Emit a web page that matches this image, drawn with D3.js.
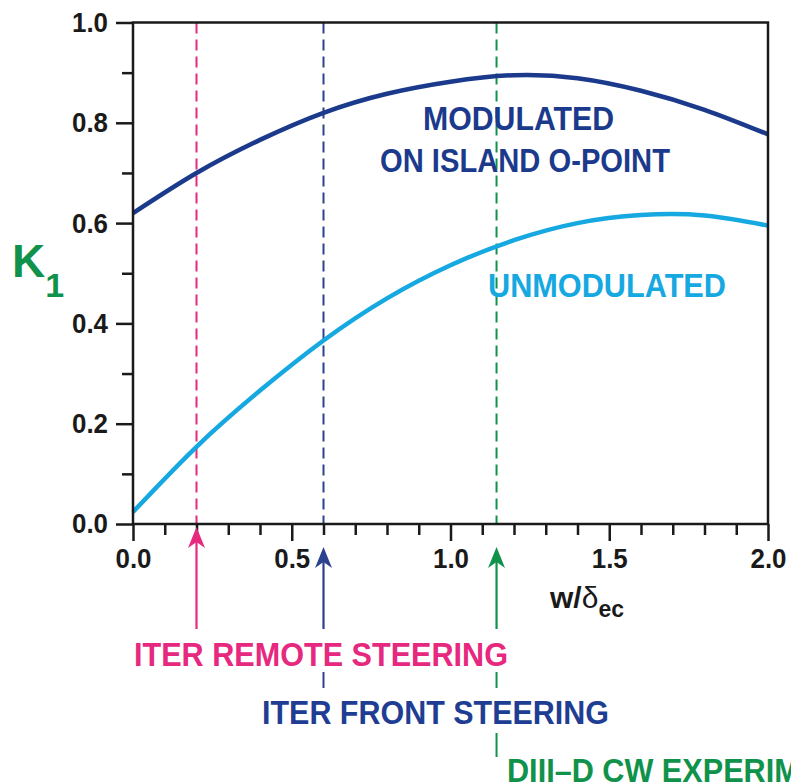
<!DOCTYPE html>
<html><head><meta charset="utf-8">
<script src="https://cdn.jsdelivr.net/npm/d3@7"></script>
<style>
body{margin:0;background:#fff;}
svg{display:block;font-family:"Liberation Sans",Arial,Helvetica,sans-serif;}
</style></head>
<body><svg id="chart" width="791" height="782"></svg>
<script>
// ---- data ----
const wValues     = [0.0, 0.2, 0.4, 0.6, 0.8, 1.0, 1.2, 1.4, 1.6, 1.8, 2.0];
const modulated   = [0.620, 0.700, 0.766, 0.820, 0.858, 0.882, 0.895, 0.889, 0.864, 0.826, 0.777];
const unmodulated = [0.024, 0.154, 0.266, 0.366, 0.450, 0.516, 0.566, 0.600, 0.616, 0.615, 0.595];
const xMajorTicks = [0.0, 0.5, 1.0, 1.5, 2.0];
const xMinorTicks = [0.1,0.2,0.3,0.4,0.6,0.7,0.8,0.9,1.1,1.2,1.3,1.4,1.6,1.7,1.8,1.9];
const yMajorTicks = [0.0, 0.2, 0.4, 0.6, 0.8, 1.0];
const yMinorTicks = [0.1, 0.3, 0.5, 0.7, 0.9];
const markerNames  = ["ITER REMOTE STEERING", "ITER FRONT STEERING", "DIII\u2013D CW EXPERIMENT"];
const markerValues = [0.2, 0.6, 1.145];

const svg = d3.select("#chart");
const x = d3.scaleLinear().domain([0, 2]).range([133, 768]);
const y = d3.scaleLinear().domain([0, 1]).range([524, 22.5]);

const navy = "#1b3a8c", light = "#16a8e0", pink = "#e6287f", green = "#10924a", blueDash = "#2c428f";
const markerColors = [pink, blueDash, green];

// dashed vertical lines
markerValues.forEach((v, i) => {
  svg.append("line").attr("x1", x(v)).attr("x2", x(v)).attr("y1", y(1)).attr("y2", y(0))
    .attr("stroke", markerColors[i]).attr("stroke-width", 2).attr("stroke-dasharray", "11,6");
});

// curves
const line = d3.line().x((d, i) => x(wValues[i])).y(d => y(d)).curve(d3.curveNatural);
svg.append("path").datum(unmodulated).attr("d", line).attr("fill", "none")
  .attr("stroke", light).attr("stroke-width", 4.5);
svg.append("path").datum(modulated).attr("d", line).attr("fill", "none")
  .attr("stroke", navy).attr("stroke-width", 4.5);

// axes
const tickFont = g => {
  g.selectAll("text").attr("font-size", 28).attr("font-weight", "bold").attr("fill", "#1a1a1a")
    .attr("textLength", 36).attr("lengthAdjust", "spacingAndGlyphs");
  g.selectAll("line").attr("stroke", "#1a1a1a").attr("stroke-width", 2.5);
  g.select(".domain").remove();
};
svg.append("g").attr("transform", `translate(0,${y(0)})`)
  .call(d3.axisBottom(x).tickValues(xMajorTicks).tickSize(17).tickPadding(7).tickFormat(d3.format(".1f")))
  .call(tickFont);
svg.append("g").attr("transform", `translate(0,${y(0)})`)
  .call(d3.axisBottom(x).tickValues(xMinorTicks).tickSize(11).tickFormat(""))
  .call(tickFont);
svg.append("g").attr("transform", `translate(${x(0)},0)`)
  .call(d3.axisLeft(y).tickValues(yMajorTicks).tickSize(17).tickPadding(8).tickFormat(d3.format(".1f")))
  .call(tickFont);
svg.append("g").attr("transform", `translate(${x(0)},0)`)
  .call(d3.axisLeft(y).tickValues(yMinorTicks).tickSize(11).tickFormat(""))
  .call(tickFont);

// frame
svg.append("rect").attr("x", x(0)).attr("y", y(1)).attr("width", x(2) - x(0)).attr("height", y(0) - y(1))
  .attr("fill", "none").attr("stroke", "#1a1a1a").attr("stroke-width", 2.5);

// axis titles
const xt = svg.append("text").attr("x", 550).attr("y", 608).attr("font-size", 30).attr("font-weight", "bold").attr("fill", "#1a1a1a");
xt.append("tspan").text("w/");
xt.append("tspan").attr("font-weight", "normal").text("\u03b4");
xt.append("tspan").attr("font-size", 23).attr("dy", 9).text("ec");
const yt = svg.append("text").attr("x", 12).attr("y", 277).attr("font-size", 46).attr("font-weight", "bold").attr("fill", green);
yt.append("tspan").text("K");
yt.append("tspan").attr("font-size", 34).attr("dy", 20).text("1");

// curve labels
const label = (txt, x0, yb, len, col) => svg.append("text").attr("x", x0).attr("y", yb)
  .attr("font-size", 34).attr("font-weight", "bold").attr("fill", col)
  .attr("textLength", len).attr("lengthAdjust", "spacingAndGlyphs").text(txt);
label("MODULATED", 423, 130, 191, navy);
label("ON ISLAND O-POINT", 380, 172, 290, navy);
label("UNMODULATED", 488, 297, 238, light);

// arrows below axis
const arrowTips = [527, 547, 547];
markerValues.forEach((v, i) => {
  const cx = x(v), t = arrowTips[i];
  svg.append("line").attr("x1", cx).attr("x2", cx).attr("y1", t + 12).attr("y2", 629)
    .attr("stroke", markerColors[i]).attr("stroke-width", 2.2);
  svg.append("path").attr("d", `M${cx},${t} L${cx - 8.5},${t + 21} L${cx},${t + 15} L${cx + 8.5},${t + 21} Z`)
    .attr("fill", markerColors[i]);
});
// leader segments through the text rows
[[1, 672, 688], [2, 672, 688], [2, 733, 757]].forEach(([i, a, b]) => {
  svg.append("line").attr("x1", x(markerValues[i])).attr("x2", x(markerValues[i])).attr("y1", a).attr("y2", b)
    .attr("stroke", markerColors[i]).attr("stroke-width", 2);
});

// marker captions
const capX = [134, 262, 507], capY = [666, 724, 782], capLen = [374, 347, 354];
const capCol = [pink, "#1f3e93", green];
markerNames.forEach((n, i) => {
  svg.append("text").attr("x", capX[i]).attr("y", capY[i]).attr("font-size", 33).attr("font-weight", "bold")
    .attr("fill", capCol[i]).attr("textLength", capLen[i]).attr("lengthAdjust", "spacingAndGlyphs").text(n);
});
</script></body></html>
